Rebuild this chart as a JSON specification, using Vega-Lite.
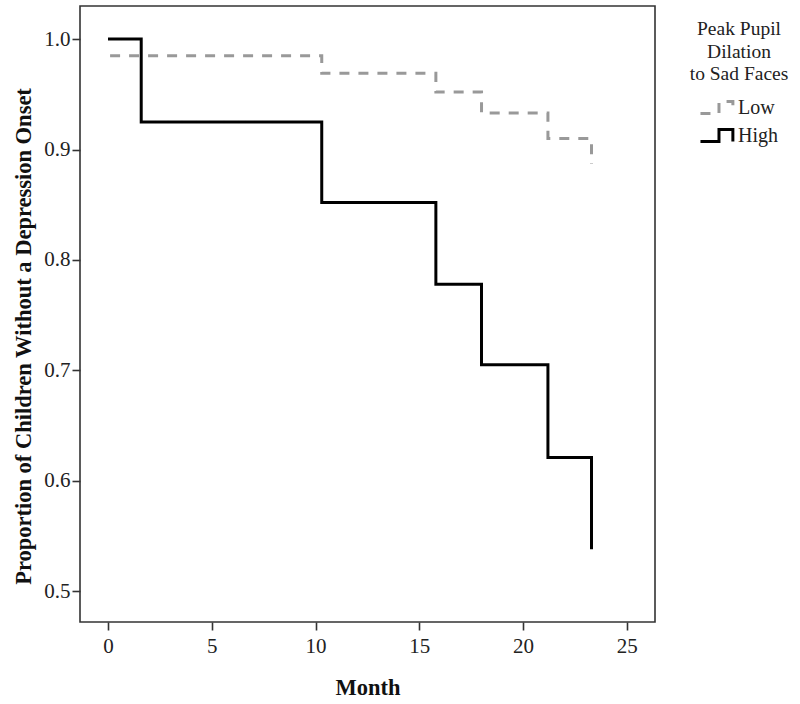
{
  "$schema": "https://vega.github.io/schema/vega-lite/v6.json",
  "width": 575,
  "height": 616,
  "autosize": "none",
  "padding": {"left": 80, "top": 6, "right": 145, "bottom": 82},
  "background": "white",
  "config": {
    "font": "Liberation Serif",
    "view": {"stroke": "#333", "strokeWidth": 1.6},
    "axis": {
      "grid": false,
      "domain": false,
      "tickColor": "#333",
      "tickWidth": 1.6,
      "tickSize": 8,
      "labelFont": "Liberation Serif",
      "labelFontSize": 21,
      "labelColor": "#222",
      "titleFont": "Liberation Serif",
      "titleFontSize": 22.5,
      "titleFontWeight": "bold",
      "titleColor": "#111"
    }
  },
  "data": {
    "values": [
      {"month": 0, "prop": 1.0, "group": "High"},
      {"month": 1.6, "prop": 0.925, "group": "High"},
      {"month": 10.3, "prop": 0.852, "group": "High"},
      {"month": 15.8, "prop": 0.778, "group": "High"},
      {"month": 18.0, "prop": 0.705, "group": "High"},
      {"month": 21.2, "prop": 0.621, "group": "High"},
      {"month": 23.3, "prop": 0.538, "group": "High"},
      {"month": 0.1, "prop": 0.985, "group": "Low"},
      {"month": 10.3, "prop": 0.969, "group": "Low"},
      {"month": 15.8, "prop": 0.952, "group": "Low"},
      {"month": 18.0, "prop": 0.933, "group": "Low"},
      {"month": 21.2, "prop": 0.91, "group": "Low"},
      {"month": 23.3, "prop": 0.887, "group": "Low"}
    ]
  },
  "mark": {"type": "line", "interpolate": "step-after", "strokeWidth": 3, "clip": true},
  "encoding": {
    "x": {
      "field": "month",
      "type": "quantitative",
      "title": "Month",
      "scale": {"domain": [-1.35, 26.36], "nice": false, "zero": false},
      "axis": {"values": [0, 5, 10, 15, 20, 25], "labelPadding": 5, "titlePadding": 20}
    },
    "y": {
      "field": "prop",
      "type": "quantitative",
      "title": "Proportion of Children Without a Depression Onset",
      "scale": {"domain": [0.472, 1.03], "nice": false, "zero": false},
      "axis": {"values": [0.5, 0.6, 0.7, 0.8, 0.9, 1.0], "format": ".1f", "labelPadding": 2, "titlePadding": 8, "titleY": 330}
    },
    "color": {
      "field": "group",
      "type": "nominal",
      "scale": {"domain": ["Low", "High"], "range": ["#999999", "#000000"]},
      "legend": {
        "title": ["Peak Pupil", "Dilation", "to Sad Faces"],
        "orient": "none",
        "legendX": 610,
        "legendY": 14,
        "titleFont": "Liberation Serif",
        "titleFontSize": 19.5,
        "titleFontWeight": "normal",
        "titleColor": "#222",
        "titleAlign": "center",
        "titleAnchor": "middle",
        "titleLineHeight": 22.5,
        "titlePadding": 8,
        "labelFont": "Liberation Serif",
        "labelFontSize": 20,
        "labelColor": "#222",
        "labelOffset": 6,
        "rowPadding": 1,
        "symbolType": "M -1.25 0.45 L 0.15 0.45 L 0.15 -0.45 L 1.2 -0.45 L 1.2 0.45",
        "symbolSize": 700,
        "symbolStrokeWidth": 3,
        "symbolOffset": 2,
        "encode": {"symbols": {"update": {"fill": {"value": "transparent"}}}}
      }
    },
    "strokeDash": {
      "field": "group",
      "type": "nominal",
      "scale": {"domain": ["Low", "High"], "range": [[10, 9], [1, 0]]},
      "legend": null
    }
  }
}
